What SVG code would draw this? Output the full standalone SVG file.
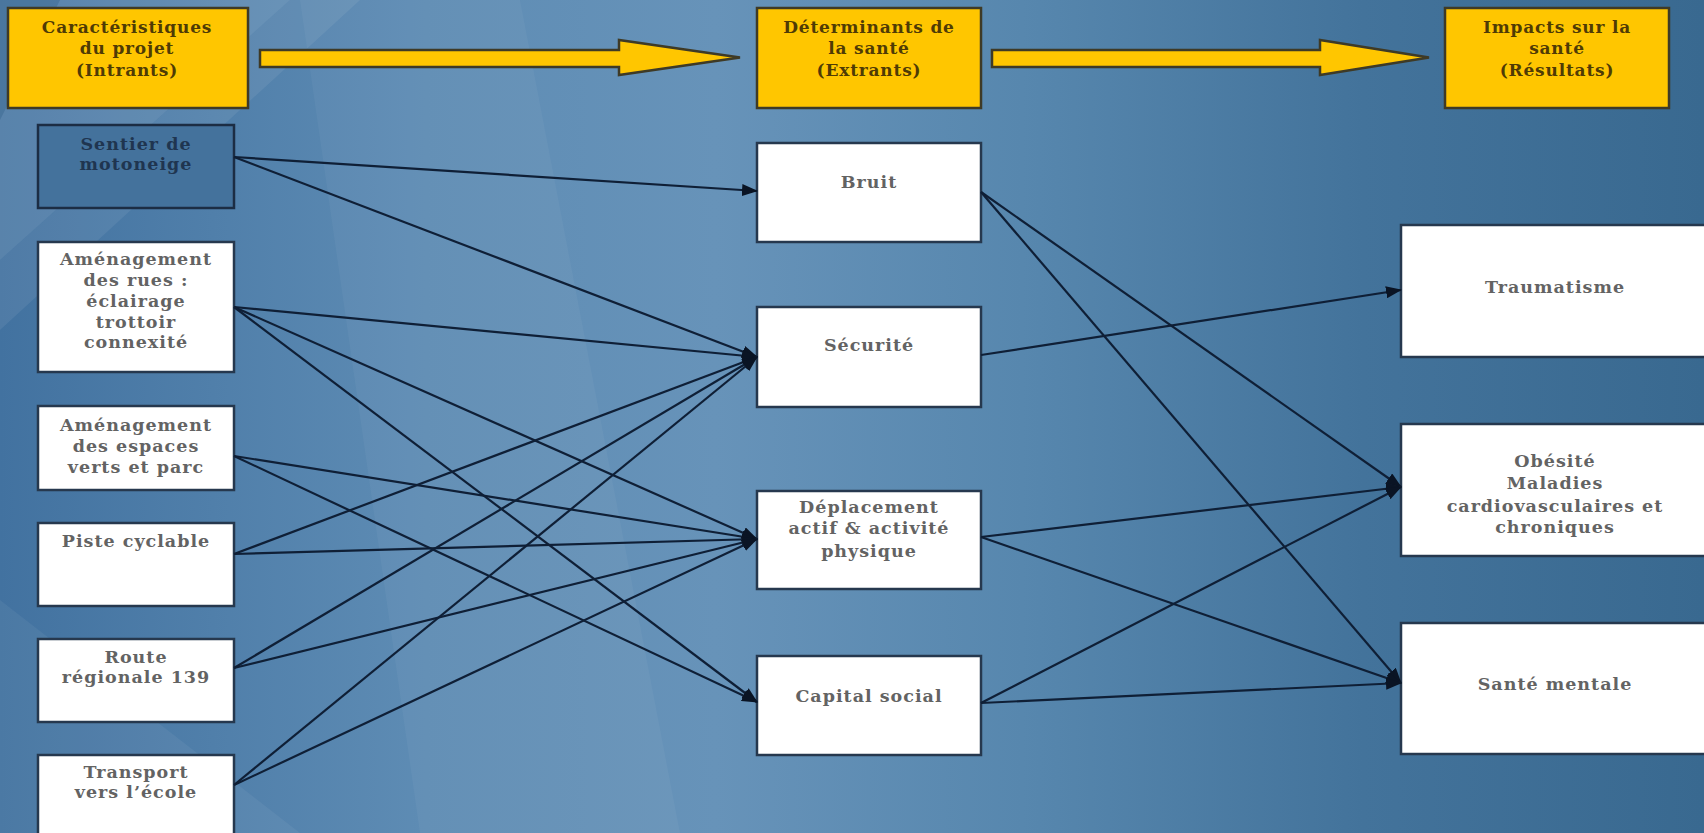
<svg xmlns="http://www.w3.org/2000/svg" width="1704" height="833" viewBox="0 0 1704 833">
<defs>
<linearGradient id="bg" x1="0" y1="0" x2="1" y2="0">
<stop offset="0" stop-color="#4272a0"/>
<stop offset="0.25" stop-color="#5e8cb4"/>
<stop offset="0.42" stop-color="#6793b9"/>
<stop offset="0.6" stop-color="#5787ae"/>
<stop offset="0.8" stop-color="#43739b"/>
<stop offset="1" stop-color="#396990"/>
</linearGradient>
<marker id="ah" markerWidth="16" markerHeight="12" refX="15" refY="6" orient="auto" markerUnits="userSpaceOnUse">
<path d="M0,0 L16,6 L0,12 z" fill="#0a1424"/>
</marker>
<style>
.hdr rect{fill:#ffc600;stroke:#3e3a26;stroke-width:2.5}
.hdr text{font-family:"DejaVu Serif","Liberation Serif",serif;font-weight:bold;font-size:17px;letter-spacing:0.8px;fill:#4f3b05;text-anchor:middle}
.box rect{fill:#ffffff;stroke:#26384e;stroke-width:2.5}
.box text{font-family:"DejaVu Serif","Liberation Serif",serif;font-weight:bold;font-size:17.5px;letter-spacing:1px;fill:#636363;text-anchor:middle}
#n-sentier rect{fill:#44729c;stroke:#1c2d44}
#n-sentier text{fill:#1f3550}
.big{fill:#ffc600;stroke:#3e3a26;stroke-width:2.5}
#edges line{stroke:#0f1f36;stroke-width:2.2;marker-end:url(#ah)}
</style>
</defs>
<rect x="0" y="0" width="1704" height="833" fill="url(#bg)"/>
<g id="background-shapes">
<polygon points="0,0 290,0 0,260" fill="#ffffff" fill-opacity="0.12"/>
<polygon points="0,0 60,0 0,120" fill="#2f5f88" fill-opacity="0.35"/>
<polygon points="0,260 290,0 360,0 0,330" fill="#ffffff" fill-opacity="0.07"/>
<polygon points="300,0 520,0 680,833 420,833" fill="#ffffff" fill-opacity="0.04"/>
<polygon points="0,600 300,833 0,833" fill="#ffffff" fill-opacity="0.05"/>
</g>
<g id="flow-arrows">
<polygon class="big" points="260,50 619,50 619,40 740,57.5 619,75 619,67 260,67"/>
<polygon class="big" points="992,50 1320,50 1320,40 1429,57.5 1320,75 1320,67 992,67"/>
</g>
<g id="h-intrants" class="hdr">
<rect x="8" y="8" width="240" height="100"/>
<text x="127" y="33">Caractéristiques</text>
<text x="127" y="54">du projet</text>
<text x="127" y="76">(Intrants)</text>
</g>
<g id="h-extrants" class="hdr">
<rect x="757" y="8" width="224" height="100"/>
<text x="869" y="33">Déterminants de</text>
<text x="869" y="54">la santé</text>
<text x="869" y="76">(Extrants)</text>
</g>
<g id="h-resultats" class="hdr">
<rect x="1445" y="8" width="224" height="100"/>
<text x="1557" y="33">Impacts sur la</text>
<text x="1557" y="54">santé</text>
<text x="1557" y="76">(Résultats)</text>
</g>
<g id="n-sentier" class="box">
<rect x="38" y="125" width="196" height="83"/>
<text x="136" y="150">Sentier de</text>
<text x="136" y="170">motoneige</text>
</g>
<g id="n-rues" class="box">
<rect x="38" y="242" width="196" height="130"/>
<text x="136" y="265">Aménagement</text>
<text x="136" y="286">des rues :</text>
<text x="136" y="307">éclairage</text>
<text x="136" y="328">trottoir</text>
<text x="136" y="348">connexité</text>
</g>
<g id="n-espaces" class="box">
<rect x="38" y="406" width="196" height="84"/>
<text x="136" y="431">Aménagement</text>
<text x="136" y="452">des espaces</text>
<text x="136" y="473">verts et parc</text>
</g>
<g id="n-piste" class="box">
<rect x="38" y="523" width="196" height="83"/>
<text x="136" y="547">Piste cyclable</text>
</g>
<g id="n-route" class="box">
<rect x="38" y="639" width="196" height="83"/>
<text x="136" y="663">Route</text>
<text x="136" y="683">régionale 139</text>
</g>
<g id="n-transport" class="box">
<rect x="38" y="755" width="196" height="95"/>
<text x="136" y="778">Transport</text>
<text x="136" y="798">vers l’école</text>
</g>
<g id="n-bruit" class="box">
<rect x="757" y="143" width="224" height="99"/>
<text x="869" y="188">Bruit</text>
</g>
<g id="n-securite" class="box">
<rect x="757" y="307" width="224" height="100"/>
<text x="869" y="351">Sécurité</text>
</g>
<g id="n-deplacement" class="box">
<rect x="757" y="491" width="224" height="98"/>
<text x="869" y="513">Déplacement</text>
<text x="869" y="534">actif &amp; activité</text>
<text x="869" y="557">physique</text>
</g>
<g id="n-capital" class="box">
<rect x="757" y="656" width="224" height="99"/>
<text x="869" y="702">Capital social</text>
</g>
<g id="n-trauma" class="box">
<rect x="1401" y="225" width="320" height="132"/>
<text x="1555" y="293">Traumatisme</text>
</g>
<g id="n-obesite" class="box">
<rect x="1401" y="424" width="320" height="132"/>
<text x="1555" y="467">Obésité</text>
<text x="1555" y="489">Maladies</text>
<text x="1555" y="512">cardiovasculaires et</text>
<text x="1555" y="533">chroniques</text>
</g>
<g id="n-sante" class="box">
<rect x="1401" y="623" width="320" height="131"/>
<text x="1555" y="690">Santé mentale</text>
</g>
<g id="edges">
<line x1="234" y1="157" x2="757" y2="191"/>
<line x1="234" y1="157" x2="757" y2="357"/>
<line x1="234" y1="307" x2="757" y2="357"/>
<line x1="234" y1="307" x2="757" y2="539"/>
<line x1="234" y1="307" x2="757" y2="702"/>
<line x1="234" y1="456" x2="757" y2="539"/>
<line x1="234" y1="456" x2="757" y2="702"/>
<line x1="234" y1="554" x2="757" y2="357"/>
<line x1="234" y1="554" x2="757" y2="539"/>
<line x1="234" y1="668" x2="757" y2="357"/>
<line x1="234" y1="668" x2="757" y2="539"/>
<line x1="234" y1="785" x2="757" y2="357"/>
<line x1="234" y1="785" x2="757" y2="539"/>
<line x1="981" y1="192" x2="1401" y2="487"/>
<line x1="981" y1="192" x2="1401" y2="683"/>
<line x1="981" y1="355" x2="1401" y2="290"/>
<line x1="981" y1="537" x2="1401" y2="487"/>
<line x1="981" y1="537" x2="1401" y2="683"/>
<line x1="981" y1="703" x2="1401" y2="487"/>
<line x1="981" y1="703" x2="1401" y2="683"/>
</g>
</svg>
